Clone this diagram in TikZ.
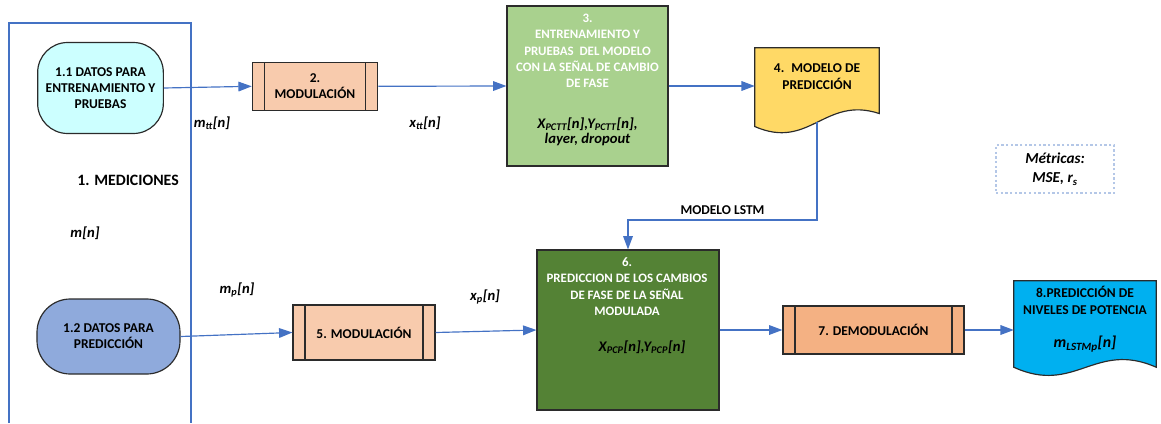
\documentclass[tikz,border=0pt]{standalone}
\usepackage{fontspec}
\setmainfont{Carlito}
\usetikzlibrary{arrows.meta,calc,backgrounds}
\definecolor{edgegray}{HTML}{2B2B2B}
\definecolor{arrblue}{HTML}{4472C4}
\definecolor{datacyan}{HTML}{CCFFFF}
\definecolor{datablue}{HTML}{8FAADC}
\definecolor{peach}{HTML}{F8CBAD}
\definecolor{peachdark}{HTML}{F4B183}
\definecolor{traingreen}{HTML}{A9D18E}
\definecolor{predgreen}{HTML}{548235}
\definecolor{docyellow}{HTML}{FFD966}
\definecolor{docblue}{HTML}{00B0F0}
\definecolor{dashblue}{HTML}{B4C7E7}
\tikzset{
  boxfont/.style={font=\fontsize{11.5}{13.6}\selectfont\bfseries},
  termbox/.style={draw=edgegray, line width=1pt, align=center, inner sep=0pt, boxfont},
  procbox/.style={draw=edgegray, line width=1pt, fill=peach, align=center, inner sep=0pt,
                  minimum height=1.44cm, boxfont,
                  path picture={
                    \draw[edgegray, line width=1pt]
                      ([xshift=0.36cm]path picture bounding box.north west) --
                      ([xshift=0.36cm]path picture bounding box.south west)
                      ([xshift=-0.36cm]path picture bounding box.north east) --
                      ([xshift=-0.36cm]path picture bounding box.south east);}},
  stepbox/.style={draw=edgegray, line width=1pt, inner sep=0pt},
  docline/.style={draw=edgegray, line width=1pt},
  whitetext/.style={text=white, align=center, font=\fontsize{11}{14}\selectfont\bfseries},
  doctext/.style={align=center, font=\fontsize{11.5}{14.4}\selectfont\bfseries},
  vartext/.style={align=center, font=\fontsize{12.5}{12.5}\selectfont\bfseries\itshape},
  sig/.style={font=\fontsize{12.5}{15}\selectfont\bfseries\itshape},
  arr/.style={-{Triangle[length=4mm,width=2.9mm]}, line width=1pt, color=arrblue}}

\begin{document}
\begin{tikzpicture}[x=0.03cm, y=-0.03cm]
  \useasboundingbox (0,0) rectangle (1161,423);

  % 1. mediciones
  \draw[arrblue, line width=1pt] (9,423) -- (9,23) -- (191,23) -- (191,423);
  \node[font=\fontsize{13.5}{16}\selectfont\bfseries] (medlbl) at (128,180) {1. MEDICIONES};
  \node[sig] (mlbl) at (85,233) {m[n]};
  \node[termbox, fill=datacyan, rounded corners=0.9cm, minimum width=3.77cm, minimum height=2.73cm]
    (d11) at (100.5,88) {1.1 DATOS PARA\\ENTRENAMIENTO Y\\PRUEBAS};
  \node[termbox, fill=datablue, rounded corners=1cm, minimum width=4.29cm, minimum height=2.25cm]
    (d12) at (108.5,336.5) {1.2 DATOS PARA\\PREDICCIÓN};

  % fila superior
  \node[procbox, minimum width=3.76cm] (mod2) at (315,86.3) {2.\\MODULACIÓN};
  \node[stepbox, fill=traingreen, minimum width=4.83cm, minimum height=4.8cm] (m3) at (587.5,86) {};
  \node[whitetext] (m3t) at (587.5,51) {3.\\ENTRENAMIENTO Y\\PRUEBAS \ DEL MODELO\\CON LA SEÑAL DE CAMBIO\\DE FASE};
  \node[vartext] (m3v) at (587.5,132)
    {X\textsubscript{PCTT}[n],Y\textsubscript{PCTT}[n],\\layer, dropout};
  \node[inner sep=0pt, minimum width=3.72cm, minimum height=2.22cm] (m4) at (817,85) {};
  \node[doctext] (m4t) at (817,77) {4. \ MODELO DE\\PREDICCIÓN};

  % fila inferior
  \node[procbox, minimum width=4.26cm, minimum height=1.65cm] (mod5) at (364,332.5) {5. MODULACIÓN};
  \node[stepbox, fill=predgreen, minimum width=5.46cm, minimum height=4.8cm] (m6) at (628,330) {};
  \node[whitetext] (m6t) at (627,286.5) {6.\\PREDICCION DE LOS CAMBIOS\\DE FASE DE LA SEÑAL\\MODULADA};
  \node[vartext] (m6v) at (642,347) {X\textsubscript{PCP}[n],Y\textsubscript{PCP}[n]};
  \node[procbox, fill=peachdark, minimum width=5.43cm] (dem7) at (873.5,330) {7. DEMODULACIÓN};
  \node[inner sep=0pt, minimum width=4.26cm, minimum height=2.58cm] (m8) at (1085,324) {};
  \node[doctext] (m8t) at (1085,300.5) {8.PREDICCIÓN DE\\NIVELES DE POTENCIA};
  \node[vartext, font=\fontsize{13.5}{14}\selectfont\bfseries\itshape] (m8v) at (1085,344) {m\textsubscript{LSTMp}[n]};

  % metricas
  \node[draw=dashblue, line width=1pt, dash pattern=on 2pt off 2pt, minimum width=3.54cm,
        minimum height=1.44cm, align=center, font=\fontsize{13}{16.5}\selectfont\bfseries\itshape]
    (metr) at (1055,169) {Métricas:\\MSE, r\textsubscript{s}};

  % documentos
  \begin{scope}[on background layer]
    \draw[docline, fill=docyellow] (m4.north west) -- (m4.north east) -- ($(m4.south east)+(0,-8.7)$)
      .. controls ($(m4.south)+(7.6,-26.7)$) and ($(m4.south)+(-7.4,28.3)$) .. ($(m4.south west)+(0,4.3)$) -- cycle;
    \draw[docline, fill=docblue] (m8.north west) -- (m8.north east) -- (m8.south east)
      .. controls ($(m8.south)+(10,-27)$) and ($(m8.south)+(-10,28)$) .. (m8.south west) -- cycle;
  \end{scope}

  % senales
  \node[sig] (mtt) at (212,123) {m\textsubscript{tt}[n]};
  \node[sig] (xtt) at (425,123) {x\textsubscript{tt}[n]};
  \node[sig] (mp) at (237,290) {m\textsubscript{p}[n]};
  \node[sig] (xp) at (485,297) {x\textsubscript{p}[n]};

  \coordinate (lstm) at (628,220);
  \draw[arr] (d11.east) -- (mod2.west);
  \draw[arr] (mod2.east) -- (m3.west);
  \draw[arr] (m3.east) -- (m3.east -| m4.west);
  \draw[arr] (m4.south) |- node[pos=0.75, above=1pt, boxfont, text=black] (lstmlbl) {MODELO LSTM} (lstm) -- (m6.north);
  \draw[arr] (d12.east) -- (mod5.west);
  \draw[arr] (mod5.east) -- (m6.west);
  \draw[arr] (m6.east) -- (dem7.west);
  \draw[arr] (dem7.east) -- (dem7.east -| m8.west);
\end{tikzpicture}
\end{document}
